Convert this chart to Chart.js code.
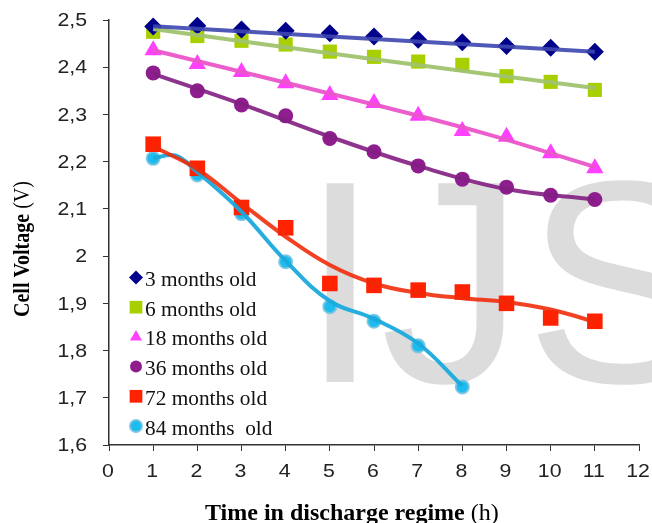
<!DOCTYPE html>
<html>
<head>
<meta charset="utf-8">
<title>Cell voltage vs discharge time</title>
<script src="https://cdn.jsdelivr.net/npm/chart.js@4.4.0/dist/chart.umd.min.js"></script>
<style>
    html, body { margin: 0; padding: 0; background: #fff; }
    #wrap { width: 652px; height: 523px; }
</style>
</head>
<body>
<div id="wrap"><canvas id="voltChart" width="652" height="523"></canvas></div>
<script>
// Time in discharge regime (h)
const hours = [1, 2, 3, 4, 5, 6, 7, 8, 9, 10, 11];
const hours84 = [1, 2, 3, 4, 5, 6, 7, 8];

const seriesNames = ['3 months old', '6 months old', '18 months old', '36 months old', '72 months old', '84 months  old'];

// Cell voltage (V) at the markers
const v3 = [2.486, 2.488, 2.480, 2.477, 2.472, 2.465, 2.458, 2.453, 2.445, 2.441, 2.433];
const v6 = [2.475, 2.466, 2.456, 2.448, 2.433, 2.422, 2.412, 2.405, 2.381, 2.369, 2.352];
const v18 = [2.436, 2.407, 2.390, 2.366, 2.341, 2.324, 2.297, 2.265, 2.253, 2.218, 2.186];
const v36 = [2.388, 2.350, 2.320, 2.297, 2.249, 2.221, 2.191, 2.163, 2.146, 2.129, 2.120];
const v72 = [2.237, 2.186, 2.103, 2.060, 1.942, 1.938, 1.928, 1.924, 1.900, 1.869, 1.862];
const v84 = [2.207, 2.172, 2.090, 1.988, 1.893, 1.862, 1.810, 1.723];

// trend lines, also (they don't go through every marker)
const trendX3 = [1, 11];
const trend3 = [2.487, 2.433];
const trendX6 = [1, 6, 11];
const trend6 = [2.481, 2.417, 2.356];
const trendX18 = [1, 6, 8.5, 11];
const trend18 = [2.436, 2.321, 2.260, 2.189];
const trendX36 = [1, 3, 5, 7, 9, 11];
const trend36 = [2.386, 2.322, 2.253, 2.191, 2.142, 2.120];
const trendX72 = [1, 2, 3, 4, 5, 6, 7, 8, 9, 10, 11];
const trend72 = [2.232, 2.184, 2.112, 2.041, 1.981, 1.942, 1.922, 1.911, 1.903, 1.887, 1.861];
const trendX84 = [1, 1.5, 2, 3, 4, 5, 6, 7, 8];
const trend84 = [2.207, 2.213, 2.178, 2.094, 1.990, 1.905, 1.867, 1.815, 1.725];

const xTickLabels = ['0', '1', '2', '3', '4', '5', '6', '7', '8', '9', '10', '11', '12'];
const yTickLabels = ['1,6', '1,7', '1,8', '1,9', '2', '2,1', '2,2', '2,3', '2,4', '2,5'];

const xTitle = ['Time in discharge regime ', '(h)'];
const yTitle = ['Cell Voltage ', '(V)'];

// marker + trend line look for each series
const looks = [
    { style: 'rectRot', r: 9, lr: 7, fill: '#00008b', border: '#00008b', bw: 0, line: 'rgba(60,70,175,0.9)' },
    { style: 'rect', r: 10, lr: 9, fill: '#a8d000', border: '#a8d000', bw: 0, line: 'rgba(160,195,110,0.95)' },
    { style: 'triangle', r: 10, lr: 7, fill: '#ff40ff', border: '#ff40ff', bw: 0, line: 'rgba(235,85,200,0.95)' },
    { style: 'circle', r: 7.5, lr: 6, fill: '#8e1e8e', border: '#8e1e8e', bw: 0, line: 'rgba(130,30,130,0.9)' },
    { style: 'rect', r: 11, lr: 9, fill: '#ff2200', border: '#ff2200', bw: 0, line: 'rgba(240,40,5,0.88)' },
    { style: 'circle', r: 6.5, lr: 6, fill: '#1cbcee', border: 'rgba(120,195,225,0.9)', bw: 2, line: 'rgba(25,170,220,0.95)' }
];

const allX = [hours, hours, hours, hours, hours, hours84];
const allY = [v3, v6, v18, v36, v72, v84];
const allTrendX = [trendX3, trendX6, trendX18, trendX36, trendX72, trendX84];
const allTrendY = [trend3, trend6, trend18, trend36, trend72, trend84];

function toPoints(xs, ys) {
    return xs.map((x, i) => ({ x: x, y: ys[i] }));
}

const datasets = [];
allY.forEach((ys, i) => {
    const lk = looks[i];
    // markers underneath
    datasets.push({
        label: seriesNames[i],
        data: toPoints(allX[i], ys),
        showLine: false,
        pointStyle: lk.style,
        pointRadius: lk.r,
        pointBackgroundColor: lk.fill,
        pointBorderColor: lk.border,
        pointBorderWidth: lk.bw,
        clip: false,
        order: 2
    });
    // smooth trend line on top
    datasets.push({
        label: seriesNames[i] + ' trend',
        data: toPoints(allTrendX[i], allTrendY[i]),
        showLine: true,
        borderColor: lk.line,
        borderWidth: 4,
        pointRadius: 0,
        tension: 0.4,
        clip: false,
        order: 1
    });
});

function stretchText(ctx, text, x, y, sx, align) {
    ctx.save();
    ctx.translate(x, y);
    ctx.scale(sx, 1);
    ctx.textAlign = align;
    ctx.fillText(text, 0, 0);
    ctx.restore();
}

function markerAt(ctx, lk, x, y, r) {
    ctx.save();
    ctx.fillStyle = lk.fill;
    ctx.strokeStyle = lk.border;
    ctx.lineWidth = lk.bw;
    Chart.helpers.drawPoint(ctx, { pointStyle: lk.style, rotation: 0, radius: r, borderWidth: lk.bw }, x, y);
    ctx.restore();
}

// grey "IJS" behind the data
const watermark = {
    id: 'watermark',
    beforeDatasetsDraw(chart) {
        const ctx = chart.ctx;
        ctx.save();
        ctx.font = '289px "Liberation Sans", Arial, sans-serif';
        ctx.fillStyle = '#dcdcdc';
        ctx.textAlign = 'left';
        ctx.textBaseline = 'alphabetic';
        ctx.fillText('IJS', 300, 382);
        ctx.restore();
    }
};

// tick labels, titles and legend (tick text is a bit wide in the original)
const texts = {
    id: 'texts',
    afterDraw(chart) {
        const ctx = chart.ctx;
        const xs = chart.scales.x, ys = chart.scales.y;

        ctx.save();
        ctx.fillStyle = '#222';
        ctx.font = '19px "Liberation Sans", Arial, sans-serif';
        ctx.textBaseline = 'middle';
        ys.ticks.forEach(t => {
            stretchText(ctx, t.label, 87, ys.getPixelForValue(t.value) + 1, 1.12, 'right');
        });
        xs.ticks.forEach(t => {
            stretchText(ctx, t.label, xs.getPixelForValue(t.value) - 1, 472, 1.12, 'center');
        });

        // x title: bold + normal
        ctx.fillStyle = '#000';
        ctx.textBaseline = 'alphabetic';
        ctx.textAlign = 'left';
        ctx.font = 'bold 24px "Liberation Serif", "Times New Roman", serif';
        const w1 = ctx.measureText(xTitle[0]).width;
        ctx.fillText(xTitle[0], 205, 520);
        ctx.font = '24px "Liberation Serif", "Times New Roman", serif';
        ctx.fillText(xTitle[1], 205 + w1, 520);

        // y title, rotated
        ctx.save();
        ctx.translate(29, 317);
        ctx.scale(1.12, 1);
        ctx.rotate(-Math.PI / 2);
        ctx.font = 'bold 20px "Liberation Serif", "Times New Roman", serif';
        const w2 = ctx.measureText(yTitle[0]).width;
        ctx.fillText(yTitle[0], 0, 0);
        ctx.font = '20px "Liberation Serif", "Times New Roman", serif';
        ctx.fillText(yTitle[1], w2, 0);
        ctx.restore();

        // legend inside plot, bottom left
        ctx.font = '22px "Liberation Serif", "Times New Roman", serif';
        seriesNames.forEach((name, i) => {
            const rowY = 277.5 + i * 29.7;
            markerAt(ctx, looks[i], 136, rowY, looks[i].lr);
            ctx.fillStyle = '#111';
            stretchText(ctx, name, 145, rowY + 8.5, 0.97, 'left');
        });
        ctx.restore();
    }
};

const ctx = document.getElementById('voltChart').getContext('2d');
new Chart(ctx, {
    type: 'scatter',
    data: { datasets: datasets },
    plugins: [watermark, texts],
    options: {
        responsive: false,
        animation: false,
        layout: { padding: { top: 20, right: 13, bottom: 0, left: 0 } },
        plugins: {
            legend: { display: false },
            tooltip: { enabled: false }
        },
        scales: {
            x: {
                type: 'linear',
                min: 0,
                max: 12,
                afterFit: s => { s.height = 78; },
                ticks: {
                    stepSize: 1,
                    color: 'transparent',
                    font: { size: 8 },
                    callback: (v, i) => xTickLabels[i]
                },
                grid: { display: true, drawOnChartArea: false, drawTicks: true, tickLength: 6, color: '#333' },
                border: { display: true, color: '#333', width: 1.5 }
            },
            y: {
                min: 1.6,
                max: 2.5,
                afterFit: s => { s.width = 109; },
                ticks: {
                    stepSize: 0.1,
                    color: 'transparent',
                    font: { size: 8 },
                    callback: (v, i) => yTickLabels[i]
                },
                grid: { display: true, drawOnChartArea: false, drawTicks: true, tickLength: 6, color: '#333' },
                border: { display: true, color: '#333', width: 1.5 }
            }
        }
    }
});
</script>
</body>
</html>
